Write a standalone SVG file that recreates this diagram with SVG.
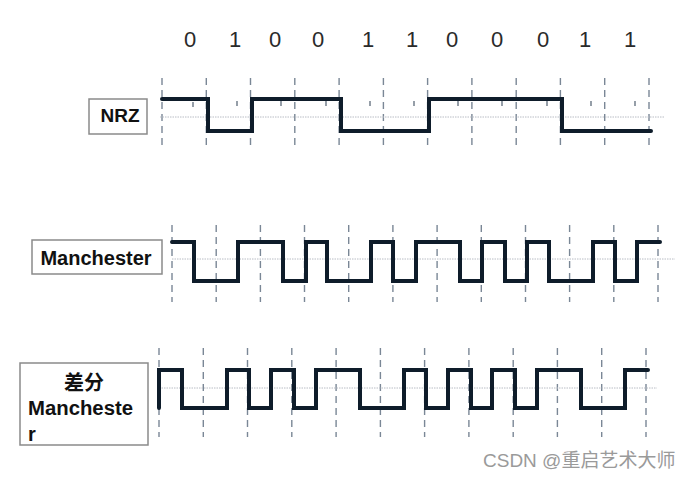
<svg xmlns="http://www.w3.org/2000/svg" width="690" height="480" viewBox="0 0 690 480">
<style>
.bit{font-family:"Liberation Sans",Arial,sans-serif;font-size:22px;fill:#2a2a2a;text-anchor:middle}
.lbl{font-family:"Liberation Sans",Arial,"Noto Sans CJK SC",sans-serif;font-size:20px;font-weight:bold;fill:#111}
.box{fill:#fff;stroke:#8a8a8a;stroke-width:1.5}
.grid{stroke:#7a8796;stroke-width:1.4;stroke-dasharray:7,5;fill:none}
.mid{stroke:#b8bcc4;stroke-width:1;stroke-dasharray:1.5,1;fill:none}
.tick{stroke:#6a7684;stroke-width:1.4}
.wave{fill:none;stroke:#0e1c2a;stroke-width:4;stroke-linejoin:miter;stroke-linecap:round}
.wm{font-family:"Liberation Sans",Arial,"Noto Sans CJK SC",sans-serif;font-size:19px;fill:#9a9a9a}
</style>
<g id="bits">
<text class="bit" x="190" y="47">0</text>
<text class="bit" x="235" y="47">1</text>
<text class="bit" x="275" y="47">0</text>
<text class="bit" x="318" y="47">0</text>
<text class="bit" x="368" y="47">1</text>
<text class="bit" x="412" y="47">1</text>
<text class="bit" x="452" y="47">0</text>
<text class="bit" x="497" y="47">0</text>
<text class="bit" x="543" y="47">0</text>
<text class="bit" x="585" y="47">1</text>
<text class="bit" x="630" y="47">1</text>
</g>
<g id="grid-nrz">
<path class="grid" d="M162,78V146M206.3,78V146M250.5,78V146M294.8,78V146M339.1,78V146M383.4,78V146M427.6,78V146M471.9,78V146M516.2,78V146M560.4,78V146M604.7,78V146M649,78V146"/>
<path class="mid" d="M160,117H665"/>
<path class="tick" d="M193,102V107M237,101V106M281,101V106M326,101V106M370,101V106M414,101V106M458,101V106M502,101V106M547,101V106M591,101V106M635,101V106"/>
</g>
<g id="grid-man">
<path class="grid" d="M172,225V302M216.2,225V302M260.4,225V302M304.5,225V302M348.7,225V302M392.9,225V302M437.1,225V302M481.3,225V302M525.5,225V302M569.6,225V302M613.8,225V302M658,225V302"/>
<path class="mid" d="M172,259H675"/>
</g>
<g id="grid-diff">
<path class="grid" d="M159,348V437M203.3,348V437M247.5,348V437M291.8,348V437M336.1,348V437M380.4,348V437M424.6,348V437M468.9,348V437M513.2,348V437M557.4,348V437M601.7,348V437M646,348V437"/>
<path class="mid" d="M159,388H657"/>
</g>
<g id="nrz">
<rect class="box" x="89" y="99" width="58" height="35"/>
<text class="lbl" x="120" y="122" text-anchor="middle" style="font-size:19px">NRZ</text>
<path class="wave" d="M162,99H208V131H252V99H341V131H429V99H562V131H651"/>
</g>
<g id="manchester">
<rect class="box" x="32" y="240" width="130" height="34"/>
<text class="lbl" x="96" y="265" text-anchor="middle">Manchester</text>
<path class="wave" d="M172,242H194V281H238V242H283V281H306V242H327V281H371V242H393V281H416V242H460V281H482V242H505V281H527V242H549V281H593V242H615V281H637V242H660"/>
</g>
<g id="diff-manchester">
<rect class="box" x="20" y="363" width="128" height="82"/>
<text class="lbl" x="84" y="390" text-anchor="middle">差分</text>
<text class="lbl" x="28" y="415" textLength="105" lengthAdjust="spacingAndGlyphs">Mancheste</text>
<text class="lbl" x="28" y="441">r</text>
<path class="wave" d="M159,408V370H182V408H227V370H249V408H271V370H294V408H316V370H360V408H404V370H426V408H448V370H471V408H492V370H515V408H537V370H581V408H625V370H648"/>
</g>
<text class="wm" x="483" y="467">CSDN @重启艺术大师</text>
</svg>
